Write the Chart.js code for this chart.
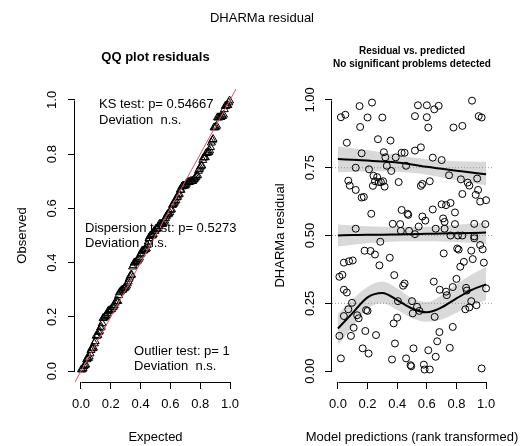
<!DOCTYPE html>
<html>
<head>
<meta charset="utf-8">
<script src="https://cdn.jsdelivr.net/npm/chart.js@4.4.0/dist/chart.umd.min.js"></script>
<style>
  html, body { margin: 0; padding: 0; background: #fff; }
  #wrap { position: relative; width: 524px; height: 446px; overflow: hidden; }
  #main { position: absolute; left: 0; top: 10px; width: 524px; line-height: 16px; text-align: center;
          font: 13px "Liberation Sans", Arial, sans-serif; color: #000; }
  canvas { position: absolute; top: 0; }
</style>
</head>
<body>
<div id="wrap">
  <canvas id="qq" width="262" height="446" style="left:0"></canvas>
  <canvas id="res" width="262" height="446" style="left:262px"></canvas>
  <div id="main">DHARMa residual</div>
</div>
<script>
const FONT = '"Liberation Sans", Arial, sans-serif';
Chart.defaults.font.family = FONT;
Chart.defaults.color = '#000';

// rank transformed model predictions and scaled residuals
const predicted = [
  0.02, 0.05, 0.146, 0.23, 0.20, 0.30, 0.15, 0.06, 0.27, 0.355, 0.16, 0.31, 0.43, 0.45, 0.52, 0.56,
  0.52, 0.54, 0.60, 0.65, 0.68, 0.60, 0.61, 0.78, 0.84, 0.905, 0.95, 0.97, 0.32, 0.33, 0.39, 0.46,
  0.64, 0.70, 0.12, 0.21, 0.36, 0.07, 0.08, 0.12, 0.16, 0.175, 0.24, 0.265, 0.25, 0.275, 0.29, 0.305,
  0.236, 0.315, 0.41, 0.56, 0.57, 0.62, 0.75, 0.83, 0.876, 0.887, 0.94, 0.84, 0.93, 0.946, 0.96, 1.0,
  0.225, 0.43, 0.47, 0.475, 0.64, 0.70, 0.73, 0.76, 0.57, 0.59, 0.71, 0.72, 0.79,
  0.12, 0.37, 0.42, 0.425, 0.48, 0.545, 0.52, 0.66, 0.72, 0.79, 0.76, 0.81, 0.84, 0.92, 0.995, 0.92, 0.286,
  0.04, 0.075, 0.10, 0.01, 0.03, 0.18, 0.22, 0.25, 0.28, 0.35, 0.38, 0.04, 0.06, 0.095, 0.07, 0.04,
  0.13, 0.14, 0.19, 0.20, 0.106, 0.01, 0.088, 0.185, 0.257, 0.167, 0.207, 0.02, 0.365, 0.385, 0.376, 0.40,
  0.405, 0.44, 0.45, 0.46, 0.49, 0.495, 0.51, 0.50, 0.505, 0.534, 0.55, 0.58, 0.585, 0.62, 0.61, 0.647,
  0.653, 0.66, 0.67, 0.685, 0.687, 0.73, 0.735, 0.714, 0.755, 0.775, 0.775, 0.80, 0.805, 0.815, 0.826, 0.85,
  0.86, 0.865, 0.87, 0.887, 0.90, 0.90, 0.91, 0.92, 0.935, 0.96, 0.977, 0.985, 1.0, 0.97
];
const residuals = [
  0.936, 0.945, 0.977, 0.99, 0.935, 0.935, 0.90, 0.842, 0.855, 0.85, 0.803, 0.807, 0.805, 0.805, 0.813, 0.825,
  0.94, 0.98, 0.98, 0.965, 0.978, 0.936, 0.898, 0.898, 0.904, 0.997, 0.94, 0.935, 0.788, 0.757, 0.788, 0.757,
  0.787, 0.778, 0.75, 0.744, 0.738, 0.702, 0.684, 0.668, 0.64, 0.642, 0.72, 0.715, 0.70, 0.697, 0.697, 0.70,
  0.683, 0.68, 0.697, 0.683, 0.69, 0.70, 0.722, 0.707, 0.695, 0.684, 0.71, 0.653, 0.65, 0.668, 0.625, 0.63,
  0.58, 0.594, 0.58, 0.576, 0.596, 0.615, 0.612, 0.62, 0.57, 0.555, 0.563, 0.55, 0.585,
  0.525, 0.543, 0.542, 0.517, 0.517, 0.533, 0.505, 0.525, 0.525, 0.542, 0.50, 0.50, 0.50, 0.543, 0.542, 0.497, 0.477,
  0.40, 0.405, 0.408, 0.348, 0.355, 0.444, 0.443, 0.43, 0.39, 0.418, 0.354, 0.30, 0.29, 0.252, 0.228, 0.203,
  0.206, 0.195, 0.225, 0.222, 0.16, 0.13, 0.13, 0.148, 0.133, 0.084, 0.065, 0.047, 0.043, 0.102, 0.176, 0.197,
  0.258, 0.315, 0.323, 0.047, 0.022, 0.018, 0.084, 0.258, 0.213, 0.237, 0.222, 0.024, 0.006, 0.006, 0.077, 0.33,
  0.20, 0.053, 0.11, 0.144, 0.30, 0.293, 0.28, 0.434, 0.086, 0.163, 0.31, 0.34, 0.452, 0.448, 0.385, 0.403,
  0.228, 0.307, 0.297, 0.235, 0.258, 0.444, 0.413, 0.49, 0.243, 0.465, 0.449, 0.40, 0.305, 0.01
];

// quantile regression curves with their confidence bands
const smoothX = [0, 0.1, 0.2, 0.3, 0.4, 0.5, 0.6, 0.7, 0.8, 0.9, 1.0];
const q25 = [0.157, 0.215, 0.272, 0.288, 0.262, 0.231, 0.217, 0.235, 0.268, 0.299, 0.32];
const q25Upper = [0.21, 0.265, 0.31, 0.33, 0.305, 0.27, 0.255, 0.28, 0.32, 0.355, 0.385];
const q25Lower = [0.095, 0.165, 0.23, 0.25, 0.225, 0.195, 0.182, 0.19, 0.215, 0.24, 0.262];
const q50 = [0.500, 0.502, 0.503, 0.503, 0.504, 0.505, 0.506, 0.507, 0.508, 0.509, 0.511];
const q50Upper = [0.541, 0.537, 0.534, 0.532, 0.531, 0.531, 0.532, 0.535, 0.539, 0.543, 0.548];
const q50Lower = [0.459, 0.466, 0.471, 0.475, 0.478, 0.479, 0.479, 0.478, 0.476, 0.473, 0.47];
const q75 = [0.782, 0.779, 0.776, 0.773, 0.769, 0.762, 0.753, 0.746, 0.739, 0.732, 0.726];
const q75Upper = [0.828, 0.822, 0.815, 0.806, 0.797, 0.788, 0.781, 0.777, 0.774, 0.773, 0.772];
const q75Lower = [0.733, 0.735, 0.736, 0.737, 0.735, 0.731, 0.724, 0.714, 0.704, 0.694, 0.684];
const refLevels = [0.25, 0.5, 0.75];

const qqTicks = [0, 0.2, 0.4, 0.6, 0.8, 1.0];
const resTicks = [0, 0.25, 0.5, 0.75, 1.0];

const qqNotes = [
  { x: 0.121, y: 0.982, lines: ['KS test: p= 0.54667', 'Deviation  n.s.'] },
  { x: 0.027, y: 0.527, lines: ['Dispersion test: p= 0.5273', 'Deviation  n.s.'] },
  { x: 0.356, y: 0.074, lines: ['Outlier test: p= 1', 'Deviation  n.s.'] }
];

// QQ plot: sorted residuals against uniform expected quantiles
const observed = residuals.slice().sort((a, b) => a - b);
const qqPoints = observed.map((v, i) => ({ x: (i + 0.5) / observed.length, y: v }));

const toXY = (xs, ys) => xs.map((x, i) => ({ x: x, y: ys[i] }));

// R style axis line: only from first to last tick
const rAxes = {
  id: 'rAxes',
  afterDraw(chart) {
    const ctx = chart.ctx, sx = chart.scales.x, sy = chart.scales.y;
    const xt = sx.ticks, yt = sy.ticks;
    ctx.save();
    ctx.strokeStyle = '#000';
    ctx.lineWidth = 1;
    ctx.beginPath();
    const yb = Math.round(sx.top) + 0.5;
    ctx.moveTo(Math.round(sx.getPixelForValue(xt[0].value)) + 0.5, yb);
    ctx.lineTo(Math.round(sx.getPixelForValue(xt[xt.length - 1].value)) + 0.5, yb);
    const xl = Math.round(sy.right) - 0.5;
    ctx.moveTo(xl, Math.round(sy.getPixelForValue(yt[0].value)) + 0.5);
    ctx.lineTo(xl, Math.round(sy.getPixelForValue(yt[yt.length - 1].value)) + 0.5);
    ctx.stroke();
    ctx.restore();
  }
};

// titles centred on the plot region, as R does
function panelTitles(items) {
  return {
    id: 'panelTitles',
    afterDraw(chart) {
      const ctx = chart.ctx, ca = chart.chartArea;
      const cx = (ca.left + ca.right) / 2;
      ctx.save();
      ctx.fillStyle = '#000';
      ctx.textAlign = 'center';
      ctx.textBaseline = 'middle';
      items.forEach(it => {
        ctx.font = it.font;
        ctx.fillText(it.text, cx, it.y);
      });
      ctx.restore();
    }
  };
}

const qqText = {
  id: 'qqText',
  afterDatasetsDraw(chart) {
    const ctx = chart.ctx, sx = chart.scales.x, sy = chart.scales.y;
    ctx.save();
    ctx.font = '13px ' + FONT;
    ctx.fillStyle = '#000';
    ctx.textAlign = 'left';
    ctx.textBaseline = 'middle';
    qqNotes.forEach(n => {
      const px = sx.getPixelForValue(n.x), py = sy.getPixelForValue(n.y);
      n.lines.forEach((t, i) => ctx.fillText(t, px, py + i * 15.7));
    });
    ctx.restore();
  }
};

function gridOpts() {
  return { display: true, drawOnChartArea: false, drawTicks: true, tickLength: 7, color: '#000', lineWidth: 1 };
}

function xAxis(ticks) {
  return {
    type: 'linear', min: -0.04, max: 1.04,
    afterBuildTicks: s => { s.ticks = ticks.map(v => ({ value: v })); },
    afterFit: s => { s.height = 64; },
    grid: gridOpts(),
    border: { display: false },
    ticks: { color: '#000', font: { size: 13 }, padding: 8, maxRotation: 0, autoSkip: false,
             callback: v => v.toFixed(1) },
    title: { display: false }
  };
}

function yAxis(title, ticks, width, pad, dec, titlePad) {
  return {
    type: 'linear', min: -0.04, max: 1.04,
    afterBuildTicks: s => { s.ticks = ticks.map(v => ({ value: v })); },
    afterFit: s => { s.width = width; },
    grid: gridOpts(),
    border: { display: false },
    ticks: { color: '#000', font: { size: 13 }, padding: pad, minRotation: 90, maxRotation: 90,
             crossAlign: 'center', autoSkip: false, callback: v => v.toFixed(dec) },
    title: { display: true, text: title, color: '#000', font: { size: 13 }, padding: { top: titlePad, bottom: 0 } }
  };
}

const baseOptions = (right) => ({
  responsive: false, animation: false, events: [],
  layout: { padding: { left: 0, right: right, top: 89, bottom: 0 } },
  plugins: { legend: { display: false }, tooltip: { enabled: false }, title: { display: false } }
});

new Chart(document.getElementById('qq'), {
  type: 'scatter',
  data: {
    datasets: [
      { type: 'line', data: [{ x: -0.04, y: -0.04 }, { x: 1.04, y: 1.04 }], borderColor: '#DF536B',
        borderWidth: 1, pointRadius: 0, fill: false, order: 0 },
      { data: qqPoints, pointStyle: 'triangle', radius: 4.6, borderColor: '#000', borderWidth: 1,
        backgroundColor: 'rgba(0,0,0,0)', order: 1 }
    ]
  },
  options: Object.assign(baseOptions(26), {
    scales: {
      x: xAxis(qqTicks),
      y: yAxis('Observed', qqTicks, 75, 7, 1, 14.2)
    }
  }),
  plugins: [rAxes, qqText, panelTitles([
    { text: 'QQ plot residuals', font: 'bold 13px ' + FONT, y: 57 },
    { text: 'Expected', font: '13px ' + FONT, y: 437 }
  ])]
});

const BAND = '#d9d9d9';
const NONE = 'rgba(0,0,0,0)';
function band(upper, lower) {
  return [
    { type: 'line', data: toXY(smoothX, upper), borderColor: NONE, borderWidth: 0, pointRadius: 0,
      cubicInterpolationMode: 'monotone', fill: '+1', backgroundColor: BAND, order: 10 },
    { type: 'line', data: toXY(smoothX, lower), borderColor: NONE, borderWidth: 0, pointRadius: 0,
      cubicInterpolationMode: 'monotone', fill: false, order: 10 }
  ];
}
function curve(ys) {
  return { type: 'line', data: toXY(smoothX, ys), borderColor: '#000', borderWidth: 2, pointRadius: 0,
           cubicInterpolationMode: 'monotone', fill: false, order: 1 };
}
function refLine(level) {
  return { type: 'line', data: [{ x: -0.04, y: level }, { x: 1.04, y: level }], borderColor: '#999999',
           borderWidth: 1, borderDash: [1, 2], pointRadius: 0, fill: false, order: 5 };
}

new Chart(document.getElementById('res'), {
  type: 'scatter',
  data: {
    datasets: [
      ...band(q75Upper, q75Lower),
      ...band(q50Upper, q50Lower),
      ...band(q25Upper, q25Lower),
      ...refLevels.map(refLine),
      { data: toXY(predicted, residuals), pointStyle: 'circle', radius: 3.5, borderColor: '#000', borderWidth: 1,
        backgroundColor: NONE, order: 3 },
      curve(q75), curve(q50), curve(q25)
    ]
  },
  options: Object.assign(baseOptions(32), {
    scales: {
      x: xAxis(qqTicks),
      y: yAxis('DHARMa residual', resTicks, 70, 2.3, 2, 10.2)
    }
  }),
  plugins: [rAxes, panelTitles([
    { text: 'Residual vs. predicted', font: 'bold 10px ' + FONT, y: 51 },
    { text: 'No significant problems detected', font: 'bold 10px ' + FONT, y: 64 },
    { text: 'Model predictions (rank transformed)', font: '13px ' + FONT, y: 437 }
  ])]
});
</script>
</body>
</html>
